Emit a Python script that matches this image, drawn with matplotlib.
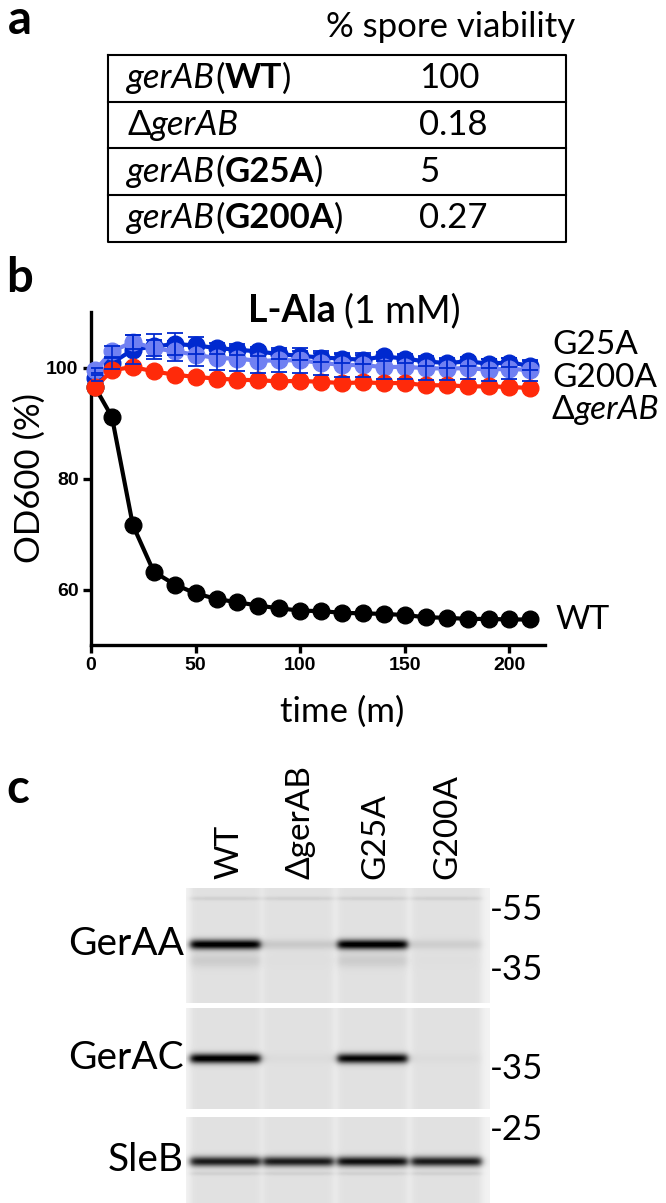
import numpy as np
import matplotlib
matplotlib.use("Agg")
import matplotlib.pyplot as plt

W, H = 666, 1203
DPI = 100

# ---------------- data ----------------
strains = ["WT", "gerAB", "G25A", "G200A"]
viability = ["100", "0.18", "5", "0.27"]

time_min = [2, 10, 20, 30, 40, 50, 60, 70, 80, 90, 100, 110, 120, 130,
            140, 150, 160, 170, 180, 190, 200, 210]
od_wt = [96.4, 91.1, 71.6, 63.2, 60.9, 59.3, 58.3, 57.7, 57.1, 56.6, 56.2,
         56.1, 55.8, 55.7, 55.6, 55.4, 55.0, 54.9, 54.7, 54.7, 54.6, 54.6]
od_g25a = [98.1, 100.8, 103.2, 103.8, 104.2, 104.0, 103.5, 103.2, 102.9, 102.4,
           102.1, 101.8, 101.6, 101.4, 102.0, 101.6, 101.1, 100.8, 101.1, 100.7,
           100.9, 100.3]
err_g25a = [0.5, 1.0, 2.6, 2.3, 2.0, 1.5, 1.0, 1.0, 0.8, 0.8, 0.8, 0.8, 0.8,
            0.8, 0.8, 0.8, 0.8, 0.8, 0.8, 0.8, 0.8, 0.8]
od_g200a = [99.5, 102.9, 104.6, 103.5, 102.9, 102.3, 101.7, 101.6, 101.2, 101.3,
            101.3, 100.8, 100.5, 100.4, 100.1, 100.1, 99.9, 99.8, 99.9, 99.6,
            99.8, 99.5]
err_g200a = [0.5, 1.0, 1.2, 1.5, 1.8, 2.0, 2.2, 2.2, 2.2, 2.2, 2.3, 2.2, 2.2,
             2.2, 2.1, 2.1, 2.1, 2.0, 2.0, 2.0, 1.9, 1.9]
od_dgerab = [96.4, 99.5, 100.1, 99.3, 98.7, 98.3, 98.0, 97.8, 97.7, 97.5, 97.6,
             97.4, 97.2, 97.3, 97.2, 97.2, 96.8, 96.8, 96.6, 96.6, 96.5, 96.3]

x_ticks = [0, 50, 100, 150, 200]
y_ticks = [60, 80, 100]

lane_labels = ["WT", "\u0394gerAB", "G25A", "G200A"]
blot_labels = ["GerAA", "GerAC", "SleB"]
band_gerAA = [1.0, 0.10, 1.0, 0.08]
band_gerAC = [1.0, 0.02, 0.95, 0.02]
band_sleB = [0.85, 0.85, 0.9, 0.85]
mw_labels = ["-55", "-35", "-35", "-25"]

# ---------------- style ----------------
C_BLACK = "#000000"
C_RED = "#FF2A0A"
C_DBLUE = "#0029CF"
C_LBLUE = "#7080F2"
SANS = "Lato"

fig = plt.figure(figsize=(W / DPI, H / DPI), dpi=DPI)
fig.patch.set_facecolor("white")

ov = fig.add_axes([0, 0, 1, 1])
ov.set_xlim(0, W)
ov.set_ylim(H, 0)
ov.axis("off")
renderer = fig.canvas.get_renderer()


def px_axes(x0, y0, x1, y1):
    return fig.add_axes([x0 / W, 1 - y1 / H, (x1 - x0) / W, (y1 - y0) / H])


def rich(x, y, segs, size, va="center"):
    for s, kw in segs:
        t = ov.text(x, y, s, fontsize=size, va=va, ha="left",
                    family=SANS, **kw)
        bb = t.get_window_extent(renderer=renderer)
        x += bb.width


# ---------------- panel letters ----------------
for lab, (lx, ly) in zip(["a", "b", "c"], [(8, 20), (6, 278), (6, 789)]):
    ov.text(lx, ly, lab, fontsize=34, fontweight="bold", family=SANS,
            va="center", ha="left")

# ---------------- panel a : table ----------------
TS = 25
tx0, tx1 = 108, 566
row_edges = [55, 102, 148, 195, 242]
ov.text(326, 27, "% spore viability", fontsize=TS, family=SANS,
        va="center", ha="left")
ov.plot([tx0, tx1, tx1, tx0, tx0],
        [row_edges[0], row_edges[0], row_edges[-1], row_edges[-1], row_edges[0]],
        color="black", lw=1.5)
for ye in row_edges[1:-1]:
    ov.plot([tx0, tx1], [ye, ye], color="black", lw=1.5)

for i, (st, v) in enumerate(zip(strains, viability)):
    yc = (row_edges[i] + row_edges[i + 1]) / 2
    if st == "gerAB":
        segs = [("\u0394", {}), ("gerAB", {"style": "italic"})]
    else:
        segs = [("gerAB", {"style": "italic"}), ("(", {}),
                (st, {"weight": "bold"}), (")", {})]
    rich(127, yc, segs, TS)
    ov.text(419, yc, v, fontsize=TS, family=SANS, va="center", ha="left")

# ---------------- panel b : germination curves ----------------
ax = px_axes(91, 312, 545, 645)
ax.set_xlim(0, 217)
ax.set_ylim(50, 110)
ms = 12
lw = 3.0
ax.plot(time_min, od_wt, "o-", color=C_BLACK, ms=ms, lw=lw, zorder=2,
        clip_on=False)
ax.plot(time_min, od_g25a, "o-", color=C_DBLUE, ms=ms, lw=lw, zorder=3,
        clip_on=False)
ax.plot(time_min, od_g200a, "o-", color=C_LBLUE, ms=ms, lw=lw, zorder=4,
        clip_on=False)
ax.plot(time_min, od_dgerab, "o-", color=C_RED, ms=ms, lw=lw, zorder=5,
        clip_on=False)
ax.errorbar(time_min, od_g25a, yerr=err_g25a, fmt="none", ecolor=C_DBLUE,
            elinewidth=1.2, capsize=6, capthick=1.3, zorder=6)
ax.errorbar(time_min, od_g200a, yerr=err_g200a, fmt="none", ecolor=C_DBLUE,
            elinewidth=1.2, capsize=6, capthick=1.3, zorder=6)

for s in ["top", "right"]:
    ax.spines[s].set_visible(False)
for s in ["left", "bottom"]:
    ax.spines[s].set_linewidth(2.4)
ax.set_xticks(x_ticks)
ax.set_yticks(y_ticks)
ax.tick_params(width=2.4, length=6, direction="out", labelsize=14, pad=3)
for lab in ax.get_xticklabels() + ax.get_yticklabels():
    lab.set_family("Liberation Sans")
    lab.set_fontweight("bold")
ax.patch.set_visible(False)

ov.text(30, 478, "OD600 (%)", rotation=90, fontsize=25, family=SANS,
        va="center", ha="center")
ov.text(342, 712, "time (m)", fontsize=25, family=SANS, va="center",
        ha="center")
# title
ov.text(336, 311, "L-Ala", fontsize=27, family=SANS, fontweight="bold",
        va="center", ha="right")
ov.text(344, 311, "(1 mM)", fontsize=27, family=SANS, va="center", ha="left")

# series labels
SL = 24
ov.text(552, 345, "G25A", fontsize=SL, family=SANS, va="center", ha="left")
ov.text(552, 378, "G200A", fontsize=SL, family=SANS, va="center", ha="left")
rich(552, 410, [("\u0394", {}), ("gerAB", {"style": "italic"})], SL)
ov.text(555, 620, "WT", fontsize=SL, family=SANS, va="center", ha="left")

# ---------------- panel c : western blots ----------------
lane_centers = [225, 298, 372, 446]
lane_half = 35
blot_x0, blot_x1 = 186, 490
blot_boxes = [(888, 1003, 56, band_gerAA), (1008, 1109, 50, band_gerAC),
              (1117, 1203, 44, band_sleB)]

for k, (y0, y1, yb, bands) in enumerate(blot_boxes):
    h = y1 - y0
    w = blot_x1 - blot_x0
    yy, xx = np.mgrid[0:h, 0:w]
    xabs = xx + blot_x0
    img = np.full((h, w), 0.95)
    for j, c in enumerate(lane_centers):
        m = 1 / (1 + np.exp(-(lane_half - np.abs(xabs - c)) / 2.0))
        img -= 0.07 * m
        s = bands[j]
        img -= 0.92 * s * m * np.exp(-0.5 * ((yy - yb) / 3.5) ** 2)
        if k == 0:
            img -= 0.06 * m * np.exp(-0.5 * ((yy - 10) / 1.5) ** 2)
            img -= 0.08 * s * m * np.exp(-0.5 * ((yy - 72) / 5) ** 2)
        if k == 2:
            img -= 0.06 * m * np.exp(-0.5 * ((yy - 56) / 1.5) ** 2)
    img = np.clip(img, 0, 1)
    bax = px_axes(blot_x0, y0, blot_x1, y1)
    bax.imshow(img, cmap="gray", vmin=0, vmax=1, aspect="auto",
               interpolation="bilinear")
    bax.axis("off")

for lab, c in zip(lane_labels, [229, 300, 375, 447]):
    ov.text(c, 879, lab, rotation=90, fontsize=24, family=SANS,
            va="bottom", ha="center")

for lab, yc in zip(blot_labels, [944, 1058, 1160]):
    ov.text(184, yc, lab, fontsize=28, family=SANS, va="center", ha="right")

for lab, yc in zip(mw_labels, [910, 970, 1069, 1130]):
    ov.text(490, yc, lab, fontsize=25, family=SANS, va="center", ha="left")

fig.savefig("out.png", dpi=DPI)
